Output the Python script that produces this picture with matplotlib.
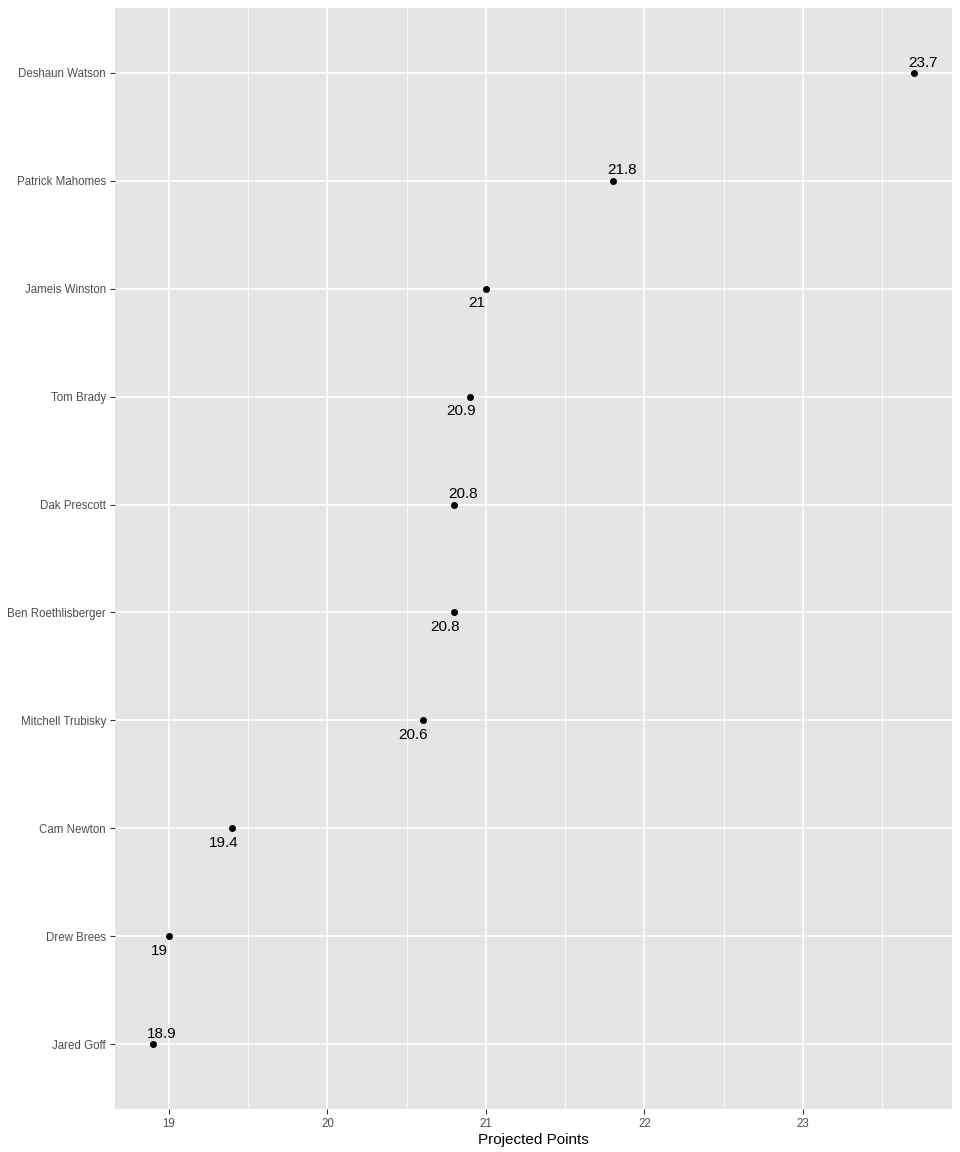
import matplotlib
matplotlib.use("Agg")
import matplotlib.pyplot as plt
from matplotlib.ticker import MultipleLocator

plt.rcParams["font.family"] = ["Liberation Sans", "DejaVu Sans"]

# 数据（从下到上）
players = ["Jared Goff", "Drew Brees", "Cam Newton", "Mitchell Trubisky",
           "Ben Roethlisberger", "Dak Prescott", "Tom Brady", "Jameis Winston",
           "Patrick Mahomes", "Deshaun Watson"]
points = [18.9, 19.0, 19.4, 20.6, 20.8, 20.8, 20.9, 21.0, 21.8, 23.7]
labels = ["18.9", "19", "19.4", "20.6", "20.8", "20.8", "20.9", "21", "21.8", "23.7"]
# 标签位置: 1 = 上方, -1 = 下方
label_side = [1, -1, -1, -1, -1, 1, -1, -1, 1, 1]

fig = plt.figure(figsize=(9.6, 11.52), dpi=100)
ax = fig.add_axes([115 / 960, 1 - 1109 / 1152, 837 / 960, 1101 / 1152])

ypos = list(range(len(players)))
ax.set_facecolor("#E5E5E5")
ax.scatter(points, ypos, s=16, color="black", zorder=3)

for x, y, lab, side in zip(points, ypos, labels, label_side):
    if side > 0:
        ax.annotate(lab, (x, y), xytext=(6.5, 4.5), textcoords="offset points",
                    ha="center", va="baseline", fontsize=11, color="black")
    else:
        ax.annotate(lab, (x, y), xytext=(-6.5, -5.5), textcoords="offset points",
                    ha="center", va="top", fontsize=11, color="black")

ax.set_xlim(18.66, 23.94)
ax.set_ylim(-0.6, len(players) - 0.4)
ax.set_yticks(ypos)
ax.set_yticklabels(players)
ax.xaxis.set_major_locator(MultipleLocator(1))
ax.xaxis.set_minor_locator(MultipleLocator(0.5))

ax.grid(True, which="major", color="white", linewidth=1.2)
ax.grid(True, which="minor", axis="x", color="white", linewidth=0.6)
ax.set_axisbelow(True)
for s in ax.spines.values():
    s.set_visible(False)

ax.tick_params(axis="both", which="major", length=3.5, width=0.8, color="#333333",
               labelsize=8.3, labelcolor="#4D4D4D", pad=3)
ax.tick_params(axis="x", which="minor", length=0)
ax.set_xlabel("Projected Points", fontsize=11, labelpad=2)

fig.savefig("out.png", dpi=100)
